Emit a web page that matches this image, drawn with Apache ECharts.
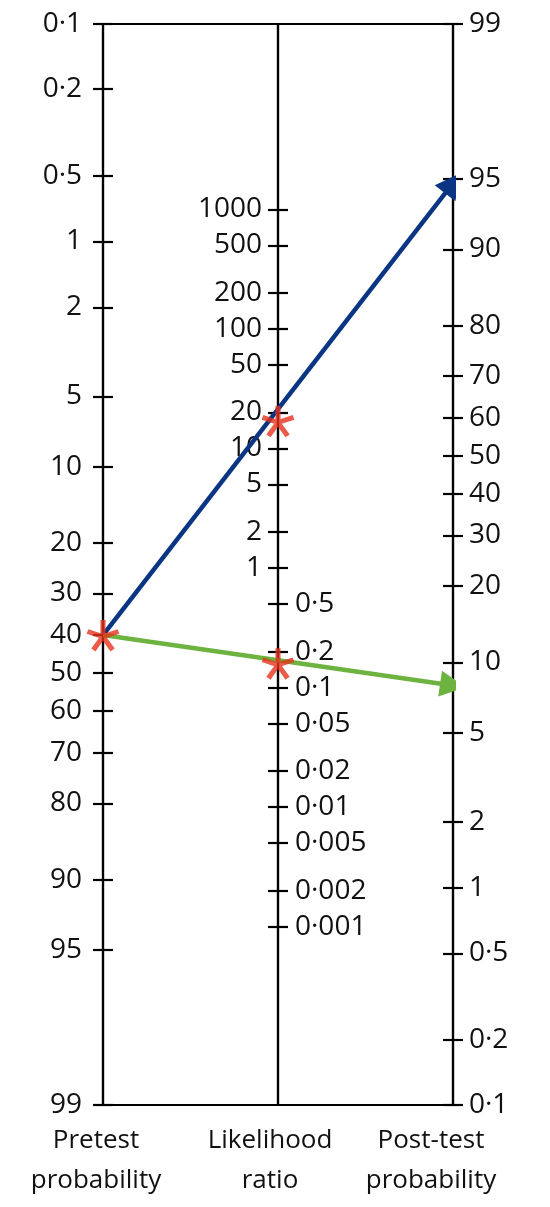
<!DOCTYPE html>
<html><head><meta charset="utf-8">
<script src="https://cdn.jsdelivr.net/npm/echarts@6/dist/echarts.min.js"></script>
<style>html,body{margin:0;padding:0;background:#fff}#c{width:550px;height:1207px}</style>
</head><body><div id="c"></div>
<script>
// ---- data ----
const pretestTicks = [0.1, 0.2, 0.5, 1, 2, 5, 10, 20, 30, 40, 50, 60, 70, 80, 90, 95, 99];
const posttestTicks = [99, 95, 90, 80, 70, 60, 50, 40, 30, 20, 10, 5, 2, 1, 0.5, 0.2, 0.1];
const lrTicks = [1000, 500, 200, 100, 50, 20, 10, 5, 2, 1, 0.5, 0.2, 0.1, 0.05, 0.02, 0.01, 0.005, 0.002, 0.001];
const axisTitles = ['Pretest\nprobability', 'Likelihood\nratio', 'Post-test\nprobability'];
const pretest = 40;                  // %
const likelihoodRatios = [17, 0.16]; // positive test, negative test
const posttest = [94.8, 8.0];        // %

// ---- scales: logit for probabilities, log10 for likelihood ratio ----
const logit = p => Math.log(p / (1 - p));
const pMin = Math.min(...pretestTicks) / 100, pMax = Math.max(...pretestTicks) / 100;
const LMIN = logit(pMin), LMAX = logit(pMax);
const U = LMAX - LMIN;
const uLeft = p => logit(p / 100) - LMIN;
const uRight = p => LMAX - logit(p / 100);
const LR_AXIS_MIN = -4.49, LR_AXIS_MAX = 4.55; // log10 range of the likelihood-ratio axis
const fmt = v => String(v).replace('.', '·');
const nearestLabel = (ticks, tf) => v => {
  let best = ticks[0];
  ticks.forEach(t => { if (Math.abs(tf(t) - v) < Math.abs(tf(best) - v)) best = t; });
  return fmt(best);
};
const pT = t => logit(t / 100);
const lT = t => Math.log10(t);

const BLACK = '#000';
const lineSt = { color: BLACK, width: 2.2 };
const FONT = '"Open Sans", sans-serif';
const lab = (extra) => Object.assign({ fontSize: 28, color: '#111', fontFamily: FONT }, extra);

function probAxis(pos, inverse, ticks, labels, outside) {
  const vals = ticks.map(pT);
  return {
    type: 'value', position: pos, min: LMIN, max: LMAX, inverse: inverse,
    axisLine: { show: true, onZero: false, lineStyle: lineSt },
    axisTick: { show: true, inside: !outside, length: 10, customValues: vals, lineStyle: lineSt },
    axisLabel: labels ? lab({ customValues: vals, formatter: nearestLabel(ticks, pT), margin: pos === 'left' ? 21 : 16 }) : { show: false },
    splitLine: { show: false }
  };
}
function lrAxis(outside) {
  const vals = lrTicks.map(lT);
  const labVals = lrTicks.filter(t => outside ? t >= 1 : t < 1).map(lT);
  return {
    type: 'value', position: 'left', offset: -175, min: LR_AXIS_MIN, max: LR_AXIS_MAX,
    axisLine: { show: true, onZero: false, lineStyle: lineSt },
    axisTick: { show: true, inside: !outside, length: 10, customValues: vals, lineStyle: lineSt },
    axisLabel: lab({ inside: !outside, customValues: labVals, formatter: nearestLabel(lrTicks, lT), margin: outside ? 16 : 17 }),
    splitLine: { show: false }
  };
}

const star = 'path://M0,0L0,-10M0,0L9.51,-3.09M0,0L-9.51,-3.09M0,0L5.88,8.09M0,0L-5.88,8.09';
const starStyle = { color: 'rgba(0,0,0,0)', borderColor: '#e5321b', borderWidth: 5 };
const lineColors = ['#0a3583', '#6cb33f'];
const tri = 'path://M0,0L11,26L-11,26Z';

const chart = echarts.init(document.getElementById('c'));
chart.setOption({
  animation: false,
  backgroundColor: '#fff',
  grid: { left: 103, right: 97, top: 24, bottom: 102 },
  xAxis: [
    { type: 'value', min: 0, max: 2, position: 'bottom', axisLine: { onZero: false, lineStyle: lineSt }, axisTick: { show: false }, axisLabel: { show: false }, splitLine: { show: false } },
    { type: 'value', min: 0, max: 2, position: 'top', axisLine: { onZero: false, lineStyle: lineSt }, axisTick: { show: false }, axisLabel: { show: false }, splitLine: { show: false } }
  ],
  yAxis: [
    { type: 'value', min: 0, max: U, inverse: true, show: false },
    probAxis('left', true, pretestTicks, true, true),
    probAxis('left', true, pretestTicks, false, false),
    probAxis('right', false, posttestTicks, true, true),
    probAxis('right', false, posttestTicks, false, false),
    lrAxis(true),
    lrAxis(false)
  ],
  series: [
    {
      type: 'lines', coordinateSystem: 'cartesian2d', xAxisIndex: 0, yAxisIndex: 0,
      symbol: ['none', tri], symbolSize: [24, 26], symbolOffset: [0, 13],
      lineStyle: { width: 4.5, opacity: 1, curveness: 0 },
      data: posttest.map((post, i) => ({
        coords: [[0, uLeft(pretest)], [2, uRight(post)]],
        lineStyle: { color: lineColors[i] }
      })),
      z: 3
    },
    {
      type: 'scatter', xAxisIndex: 0, yAxisIndex: 1, symbol: star, symbolSize: [31, 30],
      itemStyle: starStyle, data: [[0, pT(pretest)]], z: 4
    },
    {
      type: 'scatter', xAxisIndex: 0, yAxisIndex: 5, symbol: star, symbolSize: [31, 30],
      itemStyle: starStyle, data: likelihoodRatios.map(lr => [1, lT(lr)]), z: 4
    }
  ],
  graphic: axisTitles.map((t, i) => ({
    type: 'text', x: [96, 270, 431][i], y: 1161,
    style: { text: t, font: '26px ' + FONT, fill: '#111', textAlign: 'center', textVerticalAlign: 'middle', lineHeight: 40 }
  }))
});
</script></body></html>
